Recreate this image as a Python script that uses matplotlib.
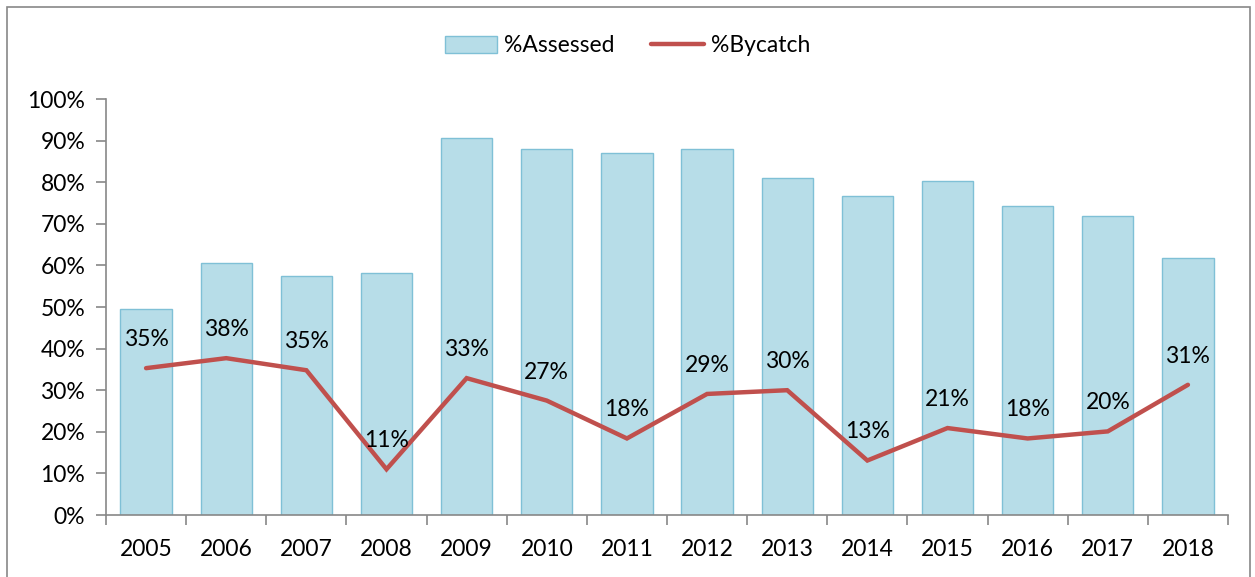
import matplotlib
matplotlib.use("Agg")
import matplotlib.pyplot as plt
from matplotlib.patches import Rectangle
import numpy as np

years = ["2005", "2006", "2007", "2008", "2009", "2010", "2011", "2012", "2013",
         "2014", "2015", "2016", "2017", "2018"]
assessed = [49.5, 60.6, 57.5, 58.2, 90.6, 88.0, 87.0, 88.0, 81.0, 76.7, 80.3, 74.3, 71.9, 61.8]
bycatch = [35.3, 37.7, 34.8, 11.0, 32.9, 27.5, 18.4, 29.1, 30.0, 13.1, 20.9, 18.4, 20.1, 31.3]
bycatch_labels = ["35%", "38%", "35%", "11%", "33%", "27%", "18%", "29%", "30%",
                  "13%", "21%", "18%", "20%", "31%"]
y_ticks = [0, 10, 20, 30, 40, 50, 60, 70, 80, 90, 100]

plt.rcParams['font.family'] = ['Lato', 'DejaVu Sans']
FS = 16.5

fig = plt.figure(figsize=(12.55, 5.77), dpi=100)
ax = fig.add_axes([106/1255, 1-515/577, (1228-106)/1255, (515-99)/577])

x = np.arange(len(years))
bars = ax.bar(x, assessed, width=0.64, color="#b7dde8", edgecolor="#7fc0d6", linewidth=1.0,
              label="%Assessed", zorder=2)
line, = ax.plot(x, bycatch, color="#c0504d", linewidth=3.2, solid_capstyle="round",
                solid_joinstyle="miter", label="%Bycatch", zorder=3)
for xi, v, lab in zip(x, bycatch, bycatch_labels):
    ax.annotate(lab, (xi, v), xytext=(0, 13), textcoords="offset points",
                ha="center", va="bottom", fontsize=FS, color="black", zorder=4)

ax.set_xlim(-0.5, len(years) - 0.5)
ax.set_ylim(0, 100)
ax.set_yticks(y_ticks)
ax.set_yticklabels([f"{t}%" for t in y_ticks])
ax.set_xticks(x)
ax.set_xticklabels(years)
ax.set_xticks(np.arange(-0.5, len(years)), minor=True)
ax.tick_params(axis="x", which="major", length=0, pad=17, labelsize=FS)
ax.tick_params(axis="x", which="minor", length=7, width=1.2, color="#888888", direction="out")
ax.tick_params(axis="y", which="major", length=7, width=1.2, color="#888888", pad=8, labelsize=FS)

for s in ["top", "right"]:
    ax.spines[s].set_visible(False)
for s in ["left", "bottom"]:
    ax.spines[s].set_color("#888888")
    ax.spines[s].set_linewidth(1.2)

fig.legend([bars, line], ["%Assessed", "%Bycatch"], loc="center",
           bbox_to_anchor=(0.5, 1-46/577), ncol=2, frameon=False,
           fontsize=FS, handlelength=2.3, columnspacing=1.6, handletextpad=0.3)

fig.patches.append(Rectangle((7/1255, -0.05), (1250-7)/1255, 1.05-7/577,
                             transform=fig.transFigure, fill=False,
                             edgecolor="#888888", linewidth=1.2))

fig.savefig("out.png", dpi=100)
